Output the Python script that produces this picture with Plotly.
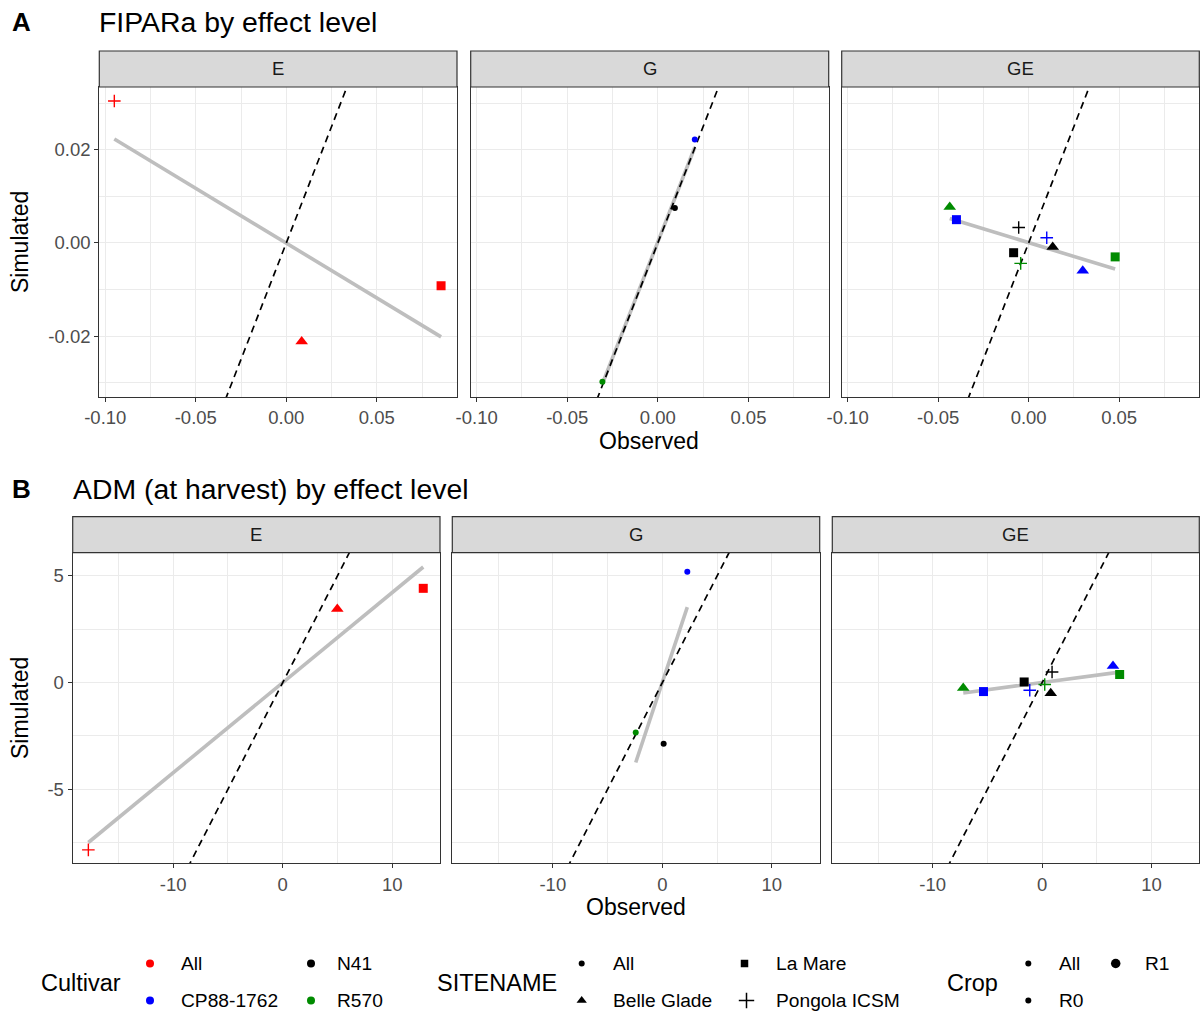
import numpy as np
import plotly.graph_objects as go

# ------------------------------------------------------------------
# DATA
# ------------------------------------------------------------------
panels = ["E", "G", "GE"]

# Panel A : FIPARa by effect level
A_E_obs = [-0.0950, 0.0855, 0.0085]
A_E_sim = [0.0305, -0.0092, -0.0212]
A_E_cultivar = ["All", "All", "All"]
A_E_site = ["Pongola ICSM", "La Mare", "Belle Glade"]

A_G_obs = [0.0204, 0.0094, -0.0306]
A_G_sim = [0.0222, 0.0075, -0.0298]
A_G_cultivar = ["CP88-1762", "N41", "R570"]
A_G_site = ["All", "All", "All"]

A_GE_obs = [-0.0436, -0.0399, -0.0055, 0.0100, 0.0133, -0.0083, -0.0044, 0.0299, 0.0478]
A_GE_sim = [0.0077, 0.0050, 0.0033, 0.0011, -0.0009, -0.0021, -0.0044, -0.0060, -0.0030]
A_GE_cultivar = ["R570", "CP88-1762", "N41", "CP88-1762", "N41", "N41", "R570", "CP88-1762", "R570"]
A_GE_site = ["Belle Glade", "La Mare", "Pongola ICSM", "Pongola ICSM", "Belle Glade",
             "La Mare", "Pongola ICSM", "Belle Glade", "La Mare"]

# Panel B : ADM (at harvest) by effect level
B_E_obs = [-17.75, 4.99, 12.84]
B_E_sim = [-7.84, 3.45, 4.42]
B_E_cultivar = ["All", "All", "All"]
B_E_site = ["Pongola ICSM", "Belle Glade", "La Mare"]

B_G_obs = [2.28, -2.43, 0.12]
B_G_sim = [5.20, -2.34, -2.87]
B_G_cultivar = ["CP88-1762", "R570", "N41"]
B_G_site = ["All", "All", "All"]

B_GE_obs = [-7.21, -5.36, -1.64, -1.13, 0.24, 0.91, 0.79, 6.48, 7.09]
B_GE_sim = [-0.25, -0.42, 0.03, -0.36, -0.09, 0.50, -0.50, 0.78, 0.38]
B_GE_cultivar = ["R570", "CP88-1762", "N41", "CP88-1762", "R570", "N41", "N41", "CP88-1762", "R570"]
B_GE_site = ["Belle Glade", "La Mare", "La Mare", "Pongola ICSM", "Pongola ICSM",
             "Pongola ICSM", "Belle Glade", "Belle Glade", "La Mare"]

# Tick values / labels
A_x_ticks = [-0.10, -0.05, 0.00, 0.05]
A_x_labels = ["-0.10", "-0.05", "0.00", "0.05"]
A_y_ticks = [-0.02, 0.00, 0.02]
A_y_labels = ["-0.02", "0.00", "0.02"]
B_x_ticks = [-10, 0, 10]
B_x_labels = ["-10", "0", "10"]
B_y_ticks = [-5, 0, 5]
B_y_labels = ["-5", "0", "5"]

# Legend entries
cultivar_levels = ["All", "CP88-1762", "N41", "R570"]
site_levels = ["All", "Belle Glade", "La Mare", "Pongola ICSM"]
crop_levels = ["All", "R0", "R1"]

# ------------------------------------------------------------------
# STYLE
# ------------------------------------------------------------------
W, H = 1200, 1012
FONT = "Arial, Liberation Sans, sans-serif"
cult_color = {"All": "#FF0000", "CP88-1762": "#0000FF", "N41": "#000000", "R570": "#008B00"}
site_symbol = {"All": "circle", "Belle Glade": "triangle-up", "La Mare": "square",
               "Pongola ICSM": "cross-thin"}
site_size = {"All": 6, "Belle Glade": 11, "La Mare": 9, "Pongola ICSM": 9}

# axis ranges (layout)
A_xr = [-0.1033, 0.0943]
A_yr = [-0.0331, 0.0335]
B_xr = [-19.18, 14.37]
B_yr = [-8.47, 6.09]

# panel pixel boxes
rowA = dict(cols=[(99.3, 457.0), (470.7, 828.7), (841.7, 1199.3)], st=51.0, top=87.0, bot=397.0)
rowB = dict(cols=[(72.7, 440.0), (452.3, 819.7), (832.3, 1199.3)], st=516.7, top=552.7, bot=863.3)

rows = [
    dict(data=[(A_E_obs, A_E_sim, A_E_cultivar, A_E_site),
               (A_G_obs, A_G_sim, A_G_cultivar, A_G_site),
               (A_GE_obs, A_GE_sim, A_GE_cultivar, A_GE_site)],
         xr=A_xr, yr=A_yr, xt=(A_x_ticks, A_x_labels), yt=(A_y_ticks, A_y_labels),
         xminor=0.025, yminor=0.01, geo=rowA),
    dict(data=[(B_E_obs, B_E_sim, B_E_cultivar, B_E_site),
               (B_G_obs, B_G_sim, B_G_cultivar, B_G_site),
               (B_GE_obs, B_GE_sim, B_GE_cultivar, B_GE_site)],
         xr=B_xr, yr=B_yr, xt=(B_x_ticks, B_x_labels), yt=(B_y_ticks, B_y_labels),
         xminor=5, yminor=2.5, geo=rowB),
]

fig = go.Figure()
layout = dict(width=W, height=H, margin=dict(l=0, r=0, t=0, b=0, autoexpand=False),
              paper_bgcolor="white", plot_bgcolor="rgba(0,0,0,0)", showlegend=False,
              font=dict(family=FONT, color="black"))
shapes, annotations = [], []

def px_x(v):
    return v / W

def px_y(v):
    return 1 - v / H

n = 0
for r, row in enumerate(rows):
    g = row["geo"]
    for c, (obs, sim, cult, site) in enumerate(row["data"]):
        n += 1
        xa = "x" if n == 1 else f"x{n}"
        ya = "y" if n == 1 else f"y{n}"
        xkey = "xaxis" if n == 1 else f"xaxis{n}"
        ykey = "yaxis" if n == 1 else f"yaxis{n}"
        left, right = g["cols"][c]

        common = dict(showline=True, mirror=True, linecolor="#333333", linewidth=1.2,
                      ticks="outside", ticklen=4, tickcolor="#333333", tickwidth=1,
                      showgrid=True, gridcolor="#EBEBEB", gridwidth=1.4, zeroline=False,
                      tickfont=dict(family=FONT, size=18.5, color="#4D4D4D"),
                      tickmode="array", automargin=False, fixedrange=True)
        layout[xkey] = dict(common, domain=[px_x(left), px_x(right)], anchor=ya,
                            range=row["xr"], tickvals=row["xt"][0], ticktext=row["xt"][1],
                            minor=dict(showgrid=True, gridcolor="#EBEBEB", gridwidth=0.7,
                                       tickmode="linear", tick0=0, dtick=row["xminor"], ticks=""))
        ycfg = dict(common, domain=[px_y(g["bot"]), px_y(g["top"])], anchor=xa,
                    range=row["yr"], tickvals=row["yt"][0], ticktext=row["yt"][1],
                    showticklabels=(c == 0),
                    minor=dict(showgrid=True, gridcolor="#EBEBEB", gridwidth=0.7,
                               tickmode="linear", tick0=0, dtick=row["yminor"], ticks=""))
        if c > 0:
            ycfg["ticks"] = ""
        layout[ykey] = ycfg

        # regression line (lm fit of the panel's points)
        xo = np.array(obs)
        so = np.array(sim)
        k, b0 = np.polyfit(xo, so, 1)
        xs = np.array([xo.min(), xo.max()])
        fig.add_trace(go.Scatter(x=xs, y=k * xs + b0, mode="lines", xaxis=xa, yaxis=ya,
                                 line=dict(color="#BEBEBE", width=3.6), hoverinfo="skip"))
        # 1:1 line
        lim = np.array([min(row["xr"][0], row["yr"][0]), max(row["xr"][1], row["yr"][1])])
        fig.add_trace(go.Scatter(x=lim, y=lim, mode="lines", xaxis=xa, yaxis=ya,
                                 line=dict(color="black", width=1.7, dash="7px,5px"),
                                 hoverinfo="skip"))
        # points
        for s in site_levels:
            idx = [i for i, v in enumerate(site) if v == s]
            if not idx:
                continue
            cols = [cult_color[cult[i]] for i in idx]
            marker = dict(symbol=site_symbol[s], size=site_size[s], color=cols)
            if s == "Pongola ICSM":
                marker["line"] = dict(color=cols, width=1.4)
            else:
                marker["line"] = dict(width=0)
            fig.add_trace(go.Scatter(x=[obs[i] for i in idx], y=[sim[i] for i in idx],
                                     mode="markers", xaxis=xa, yaxis=ya, marker=marker,
                                     cliponaxis=False))

        # strip
        shapes.append(dict(type="rect", xref="paper", yref="paper",
                           x0=px_x(left), x1=px_x(right), y0=px_y(g["top"]), y1=px_y(g["st"]),
                           fillcolor="#D9D9D9", line=dict(color="#333333", width=1.2), layer="above"))
        annotations.append(dict(text=panels[c], xref="paper", yref="paper",
                                x=px_x((left + right) / 2), y=px_y((g["st"] + g["top"]) / 2),
                                showarrow=False, xanchor="center", yanchor="middle",
                                font=dict(family=FONT, size=18.5, color="#1A1A1A")))

# titles
def text(t, x, y, size, xanchor="left", yanchor="middle", bold=False, angle=0, color="black"):
    annotations.append(dict(text=(f"<b>{t}</b>" if bold else t), xref="paper", yref="paper",
                            x=px_x(x), y=px_y(y), showarrow=False, xanchor=xanchor,
                            yanchor=yanchor, textangle=angle, borderpad=0,
                            font=dict(family=FONT, size=size, color=color)))

text("A", 11, 22, 26, bold=True)
text("FIPARa by effect level", 98, 22, 28.4)
text("B", 11, 489, 26, bold=True)
text("ADM (at harvest) by effect level", 72, 489, 28.4)
text("Simulated", 20, (rowA["top"] + rowA["bot"]) / 2, 23, xanchor="center", angle=-90)
text("Simulated", 20, (rowB["top"] + rowB["bot"]) / 2, 23, xanchor="center", angle=-90)
text("Observed", (99.3 + 1199.3) / 2, 441, 23, xanchor="center")
text("Observed", (72.7 + 1199.3) / 2, 907, 23, xanchor="center")

# ------------------------------------------------------------------
# LEGEND (manual, drawn on an overlay axis in pixel units)
# ------------------------------------------------------------------
layout["xaxis7"] = dict(domain=[0, 1], range=[0, W], visible=False, anchor="y7",
                        fixedrange=True, automargin=False)
layout["yaxis7"] = dict(domain=[0, 1], range=[H, 0], visible=False, anchor="x7",
                        fixedrange=True, automargin=False)

LEG = 19.2
r1, r2 = 963.5, 1000.5
text("Cultivar", 40, 982.5, 23.5)
cult_pos = [(150, r1), (150, r2), (311, r1), (311, r2)]
for lvl, (lx, ly) in zip(cultivar_levels, cult_pos):
    fig.add_trace(go.Scatter(x=[lx], y=[ly], mode="markers", xaxis="x7", yaxis="y7",
                             marker=dict(symbol="circle", size=8, color=cult_color[lvl],
                                         line=dict(width=0)), hoverinfo="skip"))
    text(lvl, lx + 29.5 if lx == 150 else lx + 24.5, ly, LEG)

text("SITENAME", 436, 982.5, 23.5)
site_pos = [(581.7, r1), (581.7, r2), (744.5, r1), (746.5, r2)]
site_leg_size = {"All": 6, "Belle Glade": 9, "La Mare": 7.5, "Pongola ICSM": 11}
for lvl, (lx, ly) in zip(site_levels, site_pos):
    m = dict(symbol=site_symbol[lvl], size=site_leg_size[lvl], color="black", line=dict(width=0))
    if lvl == "Pongola ICSM":
        m["line"] = dict(color="black", width=1.5)
    fig.add_trace(go.Scatter(x=[lx], y=[ly], mode="markers", xaxis="x7", yaxis="y7",
                             marker=m, hoverinfo="skip"))
    text(lvl, lx + 30.5 if lx < 700 else 774.5, ly, LEG)

text("Crop", 946.5, 982.5, 23.5)
crop_pos = [(1028.3, r1), (1028.3, r2), (1115.7, r1)]
crop_size = {"All": 6, "R0": 6, "R1": 9.5}
for lvl, (lx, ly) in zip(crop_levels, crop_pos):
    fig.add_trace(go.Scatter(x=[lx], y=[ly], mode="markers", xaxis="x7", yaxis="y7",
                             marker=dict(symbol="circle", size=crop_size[lvl], color="black",
                                         line=dict(width=0)), hoverinfo="skip"))
    text(lvl, lx + 30 if lx < 1100 else lx + 28, ly, LEG)

layout["shapes"] = shapes
layout["annotations"] = annotations
fig.update_layout(**layout)
fig.write_html("out.html")
